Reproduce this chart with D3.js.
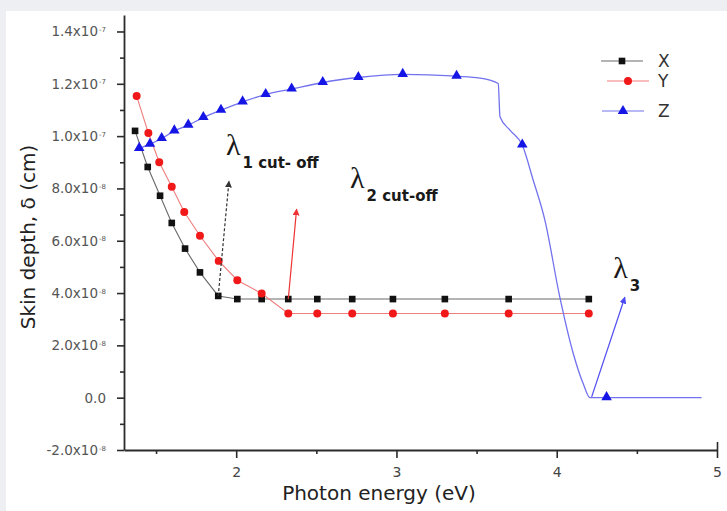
<!DOCTYPE html>
<html>
<head>
<meta charset="utf-8">
<script src="https://cdn.jsdelivr.net/npm/d3@7"></script>
<style>
  html, body { margin: 0; padding: 0; background: #edeff2; }
  svg { display: block; }
</style>
</head>
<body>
<svg id="chart" width="727" height="511"></svg>
<script>
// ---------------- data ----------------
const xE = [1.369,1.448,1.525,1.598,1.681,1.774,1.888,2.007,2.159,2.325,2.506,2.724,2.978,3.302,3.700,4.200];
const xV = [1.020e-7,8.82e-8,7.72e-8,6.68e-8,5.70e-8,4.79e-8,3.89e-8,3.77e-8,3.77e-8,3.77e-8,3.77e-8,3.77e-8,3.77e-8,3.77e-8,3.77e-8,3.77e-8];

const yE = [1.379,1.452,1.520,1.598,1.676,1.774,1.891,2.007,2.159,2.325,2.506,2.724,2.978,3.302,3.700,4.200];
const yV = [1.153e-7,1.012e-7,9.00e-8,8.06e-8,7.10e-8,6.19e-8,5.23e-8,4.49e-8,3.98e-8,3.22e-8,3.22e-8,3.22e-8,3.22e-8,3.22e-8,3.22e-8,3.22e-8];

const zE = [1.395,1.462,1.535,1.614,1.701,1.795,1.905,2.040,2.184,2.346,2.540,2.762,3.039,3.375,3.521,3.635,3.646,3.708,3.785,3.853,3.926,4.019,4.103,4.165,4.207,4.311,4.904];
const zV = [9.53e-8,9.69e-8,9.91e-8,1.020e-7,1.042e-7,1.071e-7,1.099e-7,1.131e-7,1.159e-7,1.180e-7,1.205e-7,1.224e-7,1.236e-7,1.229e-7,1.222e-7,1.201e-7,1.074e-7,1.023e-7,9.66e-8,8.32e-8,6.79e-8,3.85e-8,1.69e-8,5.4e-9,0,0,0];
const zMarked = [1,1,1,1,1,1,1,1,1,1,1,1,1,1,0,0,0,0,1,0,0,0,0,0,0,1,0];

const yTickValues = [-2e-8,0,2e-8,4e-8,6e-8,8e-8,1.0e-7,1.2e-7,1.4e-7];
const yTickMain = ["-2.0x10","0.0","2.0x10","4.0x10","6.0x10","8.0x10","1.0x10","1.2x10","1.4x10"];
const yTickExp  = ["-8","","-8","-8","-8","-8","-7","-7","-7"];
const yMinorValues = [-1e-8,1e-8,3e-8,5e-8,7e-8,9e-8,1.1e-7,1.3e-7];
const xTickValues = [2,3,4,5];
const xTickLabels = ["2","3","4","5"];
const xMinorValues = [1.5,2.5,3.5,4.5];

const seriesNames = ["X","Y","Z"];

// annotations (data coordinates)
const arrowFromE = [1.888, 2.325, 4.218];
const arrowFromV = [3.89e-8, 3.77e-8, 0.03e-8];
const arrowToE   = [1.955, 2.377, 4.425];
const arrowToV   = [8.28e-8, 7.21e-8, 3.84e-8];
const labelE   = [1.936, 2.710, 4.352];
const labelV   = [9.27e-8, 8.01e-8, 4.57e-8];
const labelSub = ["1 cut- off", "2 cut-off", "3"];

// ---------------- drawing ----------------
const svg = d3.select("#chart");
svg.append("rect").attr("x",6).attr("y",11).attr("width",721).attr("height",500).attr("fill","#ffffff");

const xs = d3.scaleLinear().domain([1.3, 5]).range([124, 717]);
const ys = d3.scaleLinear().domain([-2e-8, 1.463e-7]).range([450, 15]);

const font = "'DejaVu Sans', Verdana, sans-serif";
const axisColor = "#2b2b2b";

// Y axis
const yAxisG = svg.append("g").attr("transform","translate(124,0)")
  .call(d3.axisLeft(ys).tickValues(yTickValues).tickSize(7).tickSizeOuter(0).tickFormat(""));
yAxisG.select(".domain").attr("stroke",axisColor).attr("stroke-width",1.8);
yAxisG.selectAll(".tick line").attr("stroke",axisColor).attr("stroke-width",1.6);
svg.append("g").attr("transform","translate(124,0)")
  .call(d3.axisLeft(ys).tickValues(yMinorValues).tickSize(4).tickFormat(""))
  .call(g => g.select(".domain").remove())
  .selectAll(".tick line").attr("stroke",axisColor).attr("stroke-width",1.6);

const yLab = svg.append("g");
yTickValues.forEach((v,i) => {
  const t = yLab.append("text")
    .attr("x", 106).attr("y", ys(v)).attr("dy","0.36em")
    .attr("text-anchor","end")
    .attr("font-family",font).attr("font-size",13.5).attr("fill","#555");
  t.append("tspan").text(yTickMain[i]);
  if (yTickExp[i]) t.append("tspan").attr("font-size",7).attr("dy","-0.6em").attr("dx","1").text(yTickExp[i]);
});

// X axis
const xAxisG = svg.append("g").attr("transform","translate(0,450)")
  .call(d3.axisBottom(xs).tickValues(xTickValues).tickSize(8).tickSizeOuter(0).tickFormat((d,i)=>xTickLabels[i]));
xAxisG.select(".domain").attr("stroke",axisColor).attr("stroke-width",1.8);
xAxisG.selectAll(".tick line").attr("stroke",axisColor).attr("stroke-width",1.6);
xAxisG.selectAll(".tick text").attr("font-family",font).attr("font-size",14).attr("fill","#444").attr("dy","1.15em");
svg.append("g").attr("transform","translate(0,450)")
  .call(d3.axisBottom(xs).tickValues(xMinorValues).tickSize(4).tickFormat(""))
  .call(g => g.select(".domain").remove())
  .selectAll(".tick line").attr("stroke",axisColor).attr("stroke-width",1.6);
// upward end tick at x = 5
svg.append("g").attr("transform","translate(0,450)")
  .call(d3.axisTop(xs).tickValues([5]).tickSize(8).tickFormat(""))
  .call(g => g.select(".domain").remove())
  .selectAll(".tick line").attr("stroke",axisColor).attr("stroke-width",1.6);

// axis titles
svg.append("text").attr("x",379).attr("y",500).attr("text-anchor","middle")
  .attr("font-family",font).attr("font-size",20).attr("fill","#222").text("Photon energy (eV)");
svg.append("text").attr("transform","translate(35,237) rotate(-90)").attr("text-anchor","middle")
  .attr("font-family",font).attr("font-size",20).attr("fill","#222").text("Skin depth, δ (cm)");

// lines
const line = d3.line().x(d=>xs(d[0])).y(d=>ys(d[1]));
const zLine = d3.line().x(d=>xs(d[0])).y(d=>ys(d[1])).curve(d3.curveMonotoneX);
const xData = xE.map((e,i)=>[e,xV[i]]);
const yData = yE.map((e,i)=>[e,yV[i]]);
const zData = zE.map((e,i)=>[e,zV[i],zMarked[i]]);

svg.append("path").datum(xData).attr("d",line).attr("fill","none").attr("stroke","#6a6a6a").attr("stroke-width",1.1);
svg.append("path").datum(yData).attr("d",line).attr("fill","none").attr("stroke","#ef7d7d").attr("stroke-width",1.1);
svg.append("path").datum(zData).attr("d",zLine).attr("fill","none").attr("stroke","#7272ee").attr("stroke-width",1.3);

// markers
const sq = d3.symbol().type(d3.symbolSquare).size(44);
const ci = d3.symbol().type(d3.symbolCircle).size(50);
const tr = d3.symbol().type(d3.symbolTriangle).size(48);
svg.append("g").selectAll("path").data(xData).join("path")
  .attr("d",sq).attr("transform",d=>`translate(${xs(d[0])},${ys(d[1])})`).attr("fill","#111");
svg.append("g").selectAll("path").data(yData).join("path")
  .attr("d",ci).attr("transform",d=>`translate(${xs(d[0])},${ys(d[1])})`).attr("fill","#f01818");
svg.append("g").selectAll("path").data(zData.filter(d=>d[2])).join("path")
  .attr("d",tr).attr("transform",d=>`translate(${xs(d[0])},${ys(d[1])-0.5})`).attr("fill","#1515e6");

// arrows
const arrowColors = ["#333333","#ee3333","#4a4af0"];
const defs = svg.append("defs");
arrowColors.forEach((c,i)=>{
  defs.append("marker").attr("id","ah"+i).attr("viewBox","0 0 10 10").attr("refX",9).attr("refY",5)
    .attr("markerWidth",7).attr("markerHeight",7).attr("markerUnits","userSpaceOnUse").attr("orient","auto")
    .append("path").attr("d","M0,0 L10,5 L0,10 Z").attr("fill",c);
});
arrowFromE.forEach((e,i)=>{
  svg.append("line")
    .attr("x1",xs(e)).attr("y1",ys(arrowFromV[i]))
    .attr("x2",xs(arrowToE[i])).attr("y2",ys(arrowToV[i]))
    .attr("stroke",arrowColors[i]).attr("stroke-width",1.2)
    .attr("stroke-dasharray", i===0 ? "3,2" : null)
    .attr("marker-end",`url(#ah${i})`);
});

// lambda labels
labelE.forEach((e,i)=>{
  const t = svg.append("text").attr("x",xs(e)).attr("y",ys(labelV[i]))
    .attr("fill","#1a1a1a");
  t.append("tspan").attr("font-family","'Liberation Serif','Times New Roman',serif").attr("font-size",30).text("λ");
  t.append("tspan").attr("font-family",font).attr("font-size",15).attr("font-weight","bold")
    .attr("dy",13).attr("dx",2).text(labelSub[i]);
});

// legend
const legColors = [["#6a6a6a","#111"],["#ef7d7d","#f01818"],["#7272ee","#1515e6"]];
const legY = [61, 81, 111];
const legX0 = [601, 607, 602];
const legSym = [sq, ci, tr];
seriesNames.forEach((n,i)=>{
  const g = svg.append("g");
  g.append("line").attr("x1",legX0[i]).attr("x2",legX0[i]+42).attr("y1",legY[i]).attr("y2",legY[i])
    .attr("stroke",legColors[i][0]).attr("stroke-width",1.1);
  g.append("path").attr("d",legSym[i]).attr("transform",`translate(${legX0[i]+21},${legY[i]})`).attr("fill",legColors[i][1]);
  g.append("text").attr("x",658).attr("y",legY[i]).attr("dy","0.36em")
    .attr("font-family",font).attr("font-size",17).attr("fill","#333").text(n);
});
</script>
</body>
</html>
